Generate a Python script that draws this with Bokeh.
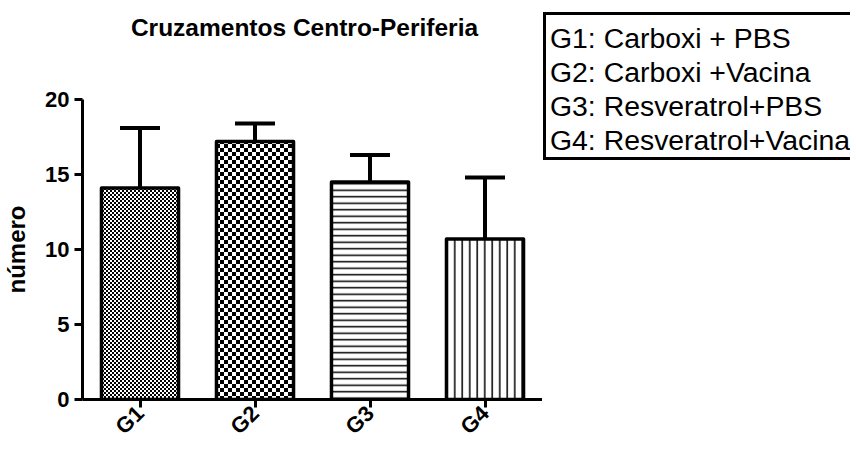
import math, zlib, struct, base64
from bokeh.plotting import figure
from bokeh.layouts import row, column
from bokeh.models import (ColumnDataSource, FactorRange, Range1d, Whisker, TeeHead,
                          Div, FixedTicker, ImageURLTexture)
from bokeh.embed import file_html
from bokeh.resources import INLINE

# ---- data ----
groups = ["G1", "G2", "G3", "G4"]
means = [14.1, 17.2, 14.5, 10.7]
errors = [4.0, 1.2, 1.8, 4.1]
patterns = ["checker_fine", "checker_big", "horizontal_line", "vertical_line"]
hatch_scales = [4, 8, 6.5, 7.5]
legend_lines = ["G1: Carboxi + PBS", "G2: Carboxi +Vacina",
                "G3: Resveratrol+PBS", "G4: Resveratrol+Vacina"]
title_text = "Cruzamentos Centro-Periferia"
y_label = "número"
y_ticks = [0, 5, 10, 15, 20]

upper = [m + e for m, e in zip(means, errors)]
source = ColumnDataSource(dict(x=groups, top=means, upper=upper, lower=means,
                               pat=patterns, sc=hatch_scales))


def checker_png(size, sq):
    raw = b""
    for yy in range(size):
        raw += b"\x00" + bytes(0 if ((xx // sq) + (yy // sq)) % 2 == 0 else 255
                               for xx in range(size))

    def chunk(t, d):
        return (struct.pack(">I", len(d)) + t + d +
                struct.pack(">I", zlib.crc32(t + d) & 0xffffffff))
    ihdr = struct.pack(">IIBBBBB", size, size, 8, 0, 0, 0, 0)
    data = (b"\x89PNG\r\n\x1a\n" + chunk(b"IHDR", ihdr) +
            chunk(b"IDAT", zlib.compress(raw)) + chunk(b"IEND", b""))
    return "data:image/png;base64," + base64.b64encode(data).decode()


FONT = "Liberation Sans"

p = figure(x_range=FactorRange(*groups), y_range=Range1d(0, 20),
           frame_width=460, height=394, output_backend="svg",
           toolbar_location=None,
           min_border_left=72, min_border_right=0, min_border_top=43,
           min_border_bottom=0)
p.outline_line_color = None
p.xgrid.grid_line_color = None
p.ygrid.grid_line_color = None
p.background_fill_color = "white"
p.border_fill_color = "white"

p.vbar(x="x", top="top", bottom=0, width=0.67, source=source,
       fill_color="white", line_color="black", line_width=3.5, line_join="round",
       hatch_pattern="pat", hatch_scale="sc", hatch_color="black", hatch_weight=1.5,
       hatch_extra={"checker_fine": ImageURLTexture(url=checker_png(4, 2)),
                    "checker_big": ImageURLTexture(url=checker_png(8, 4))})

wh = Whisker(base="x", upper="upper", lower="lower", source=source,
             line_color="black", line_width=4,
             upper_head=TeeHead(size=40, line_width=4, line_color="black"),
             lower_head=None)
p.add_layout(wh)

# axes
for ax in (p.xaxis[0], p.yaxis[0]):
    ax.axis_line_width = 3
    ax.axis_line_color = "black"
    ax.major_tick_line_width = 3
    ax.major_tick_out = 8
    ax.major_tick_in = 0
    ax.minor_tick_line_color = None
    ax.major_label_text_font = FONT
    ax.major_label_text_font_style = "bold"
    ax.major_label_text_font_size = "22px"
    ax.major_label_text_color = "black"

p.yaxis.ticker = FixedTicker(ticks=y_ticks)
p.yaxis.axis_label = y_label
p.yaxis.axis_label_text_font = FONT
p.yaxis.axis_label_text_font_style = "bold"
p.yaxis.axis_label_text_font_size = "24px"
p.yaxis.axis_label_text_color = "black"
p.yaxis.axis_label_standoff = 12

p.xaxis.major_label_orientation = math.pi / 4
p.xaxis.major_label_standoff = 2
p.xaxis.axis_label_standoff = 0

# title, as a text block above the plot
title = Div(text=title_text, width=532, height=56, margin=(0, 0, 0, 0),
            styles={"font-family": "'Liberation Sans', Arial, sans-serif",
                    "font-weight": "bold", "font-size": "24.5px",
                    "line-height": "56px", "text-align": "center",
                    "padding-left": "77px", "box-sizing": "border-box",
                    "color": "black", "white-space": "nowrap"})

# legend box, as a text block to the right of the plot
legend_html = "<br>".join(legend_lines)
legend = Div(text=legend_html, width=307, height=148, margin=(12, 0, 0, 1),
             styles={"border-top": "3px solid black",
                     "border-left": "3px solid black",
                     "border-bottom": "3px solid black",
                     "padding": "6px 0px 0px 4px",
                     "box-sizing": "border-box",
                     "font-family": "'Liberation Sans', Arial, sans-serif",
                     "font-size": "28.4px", "line-height": "34px",
                     "color": "black", "white-space": "nowrap",
                     "overflow": "hidden"})

open("out.html", "w").write(file_html(row(column(title, p), legend), INLINE))
